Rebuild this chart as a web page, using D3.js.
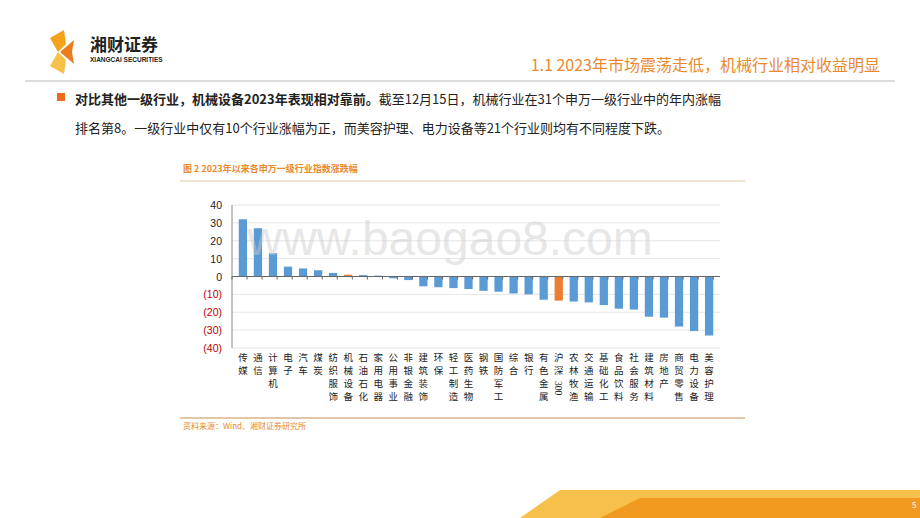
<!DOCTYPE html>
<html><head><meta charset="utf-8">
<script src="https://cdn.jsdelivr.net/npm/d3@7"></script>
<style>body{margin:0;background:#fff}svg{display:block;font-family:"Noto Sans CJK SC",sans-serif}</style>
</head><body><svg id="c" width="920" height="518"></svg>
<script>
const categories=["传媒","通信","计算机","电子","汽车","煤炭","纺织服饰","机械设备","石油石化","家用电器","公用事业","非银金融","建筑装饰","环保","轻工制造","医药生物","钢铁","国防军工","综合","银行","有色金属","沪深300","农林牧渔","交通运输","基础化工","食品饮料","社会服务","建筑材料","房地产","商贸零售","电力设备","美容护理"];
const values=[32,27,13,5.5,4.5,3.5,2,1,0.8,0.5,-1,-2,-5.5,-6,-6.5,-7,-8,-8.5,-9.5,-10,-13,-13.5,-14,-14.5,-16,-18,-18.5,-22.5,-23,-28,-30.5,-33];
const highlighted=["机械设备","沪深300"];
const yTicks=[40,30,20,10,0,-10,-20,-30,-40];
const svg=d3.select("#c");
const orange="#e98a2f";
svg.append("path").attr("d","M50,38 L64,30 L66,44 L58,52 Z").attr("fill","#f5a21b");
svg.append("path").attr("d","M50,66 L64,74 L66,60 L58,52 Z").attr("fill","#f7c04a");
svg.append("path").attr("d","M60,52 L74,40 L72,52 L74,64 Z").attr("fill","#ec7c1c");
svg.append("text").attr("x",90).attr("y",51).attr("font-size",17).attr("font-weight","bold").attr("fill","#222").text("湘财证券");
svg.append("text").attr("x",90).attr("y",62).attr("font-size",6.5).attr("font-weight","bold").attr("fill","#222").attr("font-family","Liberation Sans").text("XIANGCAI SECURITIES");
svg.append("text").attr("x",880).attr("y",71).attr("text-anchor","end").attr("font-size",16).attr("fill",orange).text("1.1 2023年市场震荡走低，机械行业相对收益明显");
svg.append("line").attr("x1",25).attr("x2",895).attr("y1",81).attr("y2",81).attr("stroke","#bbb");
svg.append("rect").attr("x",57).attr("y",93).attr("width",8).attr("height",8).attr("fill","#ec6c1c");
const t1=svg.append("text").attr("x",75).attr("y",104).attr("font-size",13).attr("fill","#222");
t1.append("tspan").attr("font-weight","bold").text("对比其他一级行业，机械设备2023年表现相对靠前。");
t1.append("tspan").text("截至12月15日，机械行业在31个申万一级行业中的年内涨幅");
svg.append("text").attr("x",75).attr("y",133).attr("font-size",13).attr("fill","#222").text("排名第8。一级行业中仅有10个行业涨幅为正，而美容护理、电力设备等21个行业则均有不同程度下跌。");
svg.append("text").attr("x",183).attr("y",172).attr("font-size",9).attr("font-weight","bold").attr("fill",orange).text("图 2 2023年以来各申万一级行业指数涨跌幅");
svg.append("line").attr("x1",180).attr("x2",745).attr("y1",181).attr("y2",181).attr("stroke","#ddc9a8");
svg.append("line").attr("x1",180).attr("x2",745).attr("y1",418).attr("y2",418).attr("stroke","#d9b58a").attr("stroke-width",1.5);
svg.append("text").attr("x",183).attr("y",429).attr("font-size",8).attr("fill",orange).text("资料来源：Wind、湘财证券研究所");
const x=d3.scaleBand().domain(categories).range([232,720]).padding(0.45);
const y=d3.scaleLinear().domain([-40,40]).range([348,205]);
svg.append("g").selectAll("line").data(yTicks).join("line").attr("x1",232).attr("x2",720).attr("y1",d=>y(d)).attr("y2",d=>y(d)).attr("stroke","#e6e6e6");
svg.append("line").attr("x1",232).attr("x2",232).attr("y1",y(40)).attr("y2",y(-40)).attr("stroke","#888");
svg.append("g").selectAll("rect").data(categories).join("rect")
 .attr("x",d=>x(d)).attr("width",x.bandwidth())
 .attr("y",(d,i)=>y(Math.max(0,values[i]))).attr("height",(d,i)=>Math.abs(y(values[i])-y(0)))
 .attr("fill",d=>highlighted.includes(d)?"#ed7d31":"#5b9bd5");
svg.append("line").attr("x1",232).attr("x2",720).attr("y1",y(0)).attr("y2",y(0)).attr("stroke","#666");
svg.append("g").selectAll("line").data(d3.range(categories.length+1)).join("line")
 .attr("x1",i=>232+i*x.step()).attr("x2",i=>232+i*x.step()).attr("y1",y(0)).attr("y2",y(0)+3).attr("stroke","#666");
svg.append("g").selectAll("text").data(yTicks).join("text").attr("x",222).attr("y",d=>y(d)+4).attr("text-anchor","end").attr("font-size",10.5)
 .attr("font-family","Liberation Sans").attr("fill",d=>d<0?"#c00000":"#222").text(d=>d<0?`(${-d})`:d);
const lg=svg.append("g").selectAll("g").data(categories).join("g").attr("transform",d=>`translate(${x(d)+x.bandwidth()/2},361)`);
lg.each(function(d){
 const g=d3.select(this);
 const parts=d==="沪深300"?["沪","深","300"]:d.split("");
 let yy=0;
 parts.forEach(p=>{
  if(p==="300"){g.append("text").attr("transform",`translate(-3.5,${yy-6}) rotate(90)`).attr("font-size",9.5).attr("font-family","Liberation Serif").attr("fill","#222").text(p);yy+=18;}
  else{g.append("text").attr("y",yy).attr("text-anchor","middle").attr("font-size",9.5).attr("fill","#222").text(p);yy+=13;}
 });
});
svg.append("text").attr("x",450).attr("y",255).attr("text-anchor","middle").attr("font-size",48).attr("font-family","Liberation Sans").attr("fill","#ccc").attr("opacity",0.45).text("www.baogao8.com");
svg.append("path").attr("d","M520,518 L560,490 L920,490 L920,518 Z").attr("fill","#f7c04a");
svg.append("path").attr("d","M600,518 L640,498 L920,498 L920,518 Z").attr("fill","#f29a1f");
svg.append("text").attr("x",912).attr("y",508).attr("font-size",8).attr("fill","#fff").text("5");
</script></body></html>
